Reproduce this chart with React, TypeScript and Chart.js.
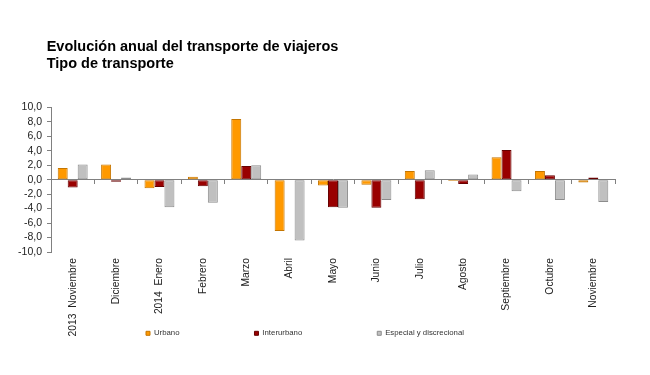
import React, { useEffect, useRef } from "react";
import { Chart, registerables } from "chart.js";

Chart.register(...registerables);

const categories: string[] = [
  "2013  Noviembre",
  "Diciembre",
  "2014  Enero",
  "Febrero",
  "Marzo",
  "Abril",
  "Mayo",
  "Junio",
  "Julio",
  "Agosto",
  "Septiembre",
  "Octubre",
  "Noviembre",
];

const urbano: number[] = [1.6, 2.1, -1.2, 0.4, 8.4, -7.1, -0.8, -0.7, 1.2, -0.2, 3.1, 1.2, -0.4];
const interurbano: number[] = [-1.1, -0.3, -1.0, -0.9, 1.9, 0.0, -3.8, -3.9, -2.7, -0.6, 4.1, 0.6, 0.3];
const especial: number[] = [2.1, 0.3, -3.8, -3.2, 2.0, -8.4, -3.9, -2.8, 1.3, 0.7, -1.6, -2.8, -3.1];

const seriesNames: string[] = ["Urbano", "Interurbano", "Especial y discrecional"];
const titleLines: string[] = ["Evolución anual del transporte de viajeros", "Tipo de transporte"];

const FONT = "Arial, 'Liberation Sans', sans-serif";

const placeBoxes = {
  id: "placeBoxes",
  afterLayout(chart: any) {
    const lg = chart.legend;
    if (lg) {
      const pad = lg.options.labels.padding;
      lg.left = 146 - pad;
      lg.right = chart.width;
      lg.top = 333.3 - 3.9 - pad;
      lg.bottom = chart.height;
      lg.width = lg.right - lg.left;
      lg.height = lg.bottom - lg.top;
    }
    const t = chart.titleBlock;
    if (t) {
      t.left -= 4.3;
      t.right -= 4.3;
    }
  },
};

export default function App() {
  const ref = useRef<HTMLCanvasElement | null>(null);

  useEffect(() => {
    if (!ref.current) return;
    const chart = new Chart(ref.current, {
      type: "bar",
      data: {
        labels: categories,
        datasets: [
          {
            label: seriesNames[0],
            data: urbano,
            backgroundColor: "#FF9900",
            borderColor: "#C47500",
            borderWidth: 1,
            borderSkipped: false,
          },
          {
            label: seriesNames[1],
            data: interurbano,
            backgroundColor: "#990000",
            borderColor: "#660000",
            borderWidth: 1,
            borderSkipped: false,
          },
          {
            label: seriesNames[2],
            data: especial,
            backgroundColor: "#C0C0C0",
            borderColor: "#8C8C8C",
            borderWidth: 1,
            borderSkipped: false,
          },
        ],
      },
      options: {
        animation: false,
        responsive: true,
        maintainAspectRatio: false,
        datasets: { bar: { categoryPercentage: 0.69, barPercentage: 1.0 } },
        layout: { padding: { left: 0, right: 35, top: 0, bottom: 0 } },
        plugins: {
          title: {
            display: true,
            text: titleLines,
            align: "start",
            fullSize: false,
            color: "#000",
            font: { family: FONT, size: 14.5, weight: "bold", lineHeight: 1.18 },
            padding: { top: 38.3, bottom: 34.8 },
          },
          legend: {
            display: true,
            position: "bottom",
            align: "start",
            maxHeight: 28,
            labels: {
              boxWidth: 4,
              boxHeight: 4,
              padding: 75,
              color: "#333",
              font: { family: FONT, size: 7.8 },
            },
          },
          tooltip: { enabled: false },
        },
        scales: {
          x: {
            type: "category",
            position: { y: 0 } as any,
            offset: true,
            grid: {
              display: true,
              offset: true,
              drawOnChartArea: false,
              drawTicks: true,
              tickLength: 4,
              color: "#808080",
            },
            border: { display: true, color: "#808080", width: 1 },
            ticks: { display: false },
          },
          x2: {
            type: "category",
            position: "bottom",
            labels: categories,
            offset: true,
            grid: { display: false, drawTicks: false },
            border: { display: false },
            ticks: {
              autoSkip: false,
              minRotation: 90,
              maxRotation: 90,
              padding: 6,
              color: "#222",
              font: { family: FONT, size: 10.3 },
            },
            afterFit: (s: any) => {
              s.height = 95;
            },
          },
          y: {
            min: -10,
            max: 10,
            grid: {
              display: true,
              drawOnChartArea: false,
              drawTicks: true,
              tickLength: 4,
              color: "#808080",
            },
            border: { display: true, color: "#808080", width: 1 },
            ticks: {
              stepSize: 2,
              autoSkip: false,
              padding: 5,
              color: "#222",
              font: { family: FONT, size: 10.5 },
              callback: (v: any) => Number(v).toFixed(1).replace(".", ","),
            },
            afterFit: (s: any) => {
              s.width = 51;
            },
          },
        },
      },
      plugins: [placeBoxes],
    });
    return () => chart.destroy();
  }, []);

  return (
    <div style={{ position: "absolute", left: 0, top: 0, width: 650, height: 375, background: "#fff" }}>
      <canvas ref={ref} />
    </div>
  );
}
